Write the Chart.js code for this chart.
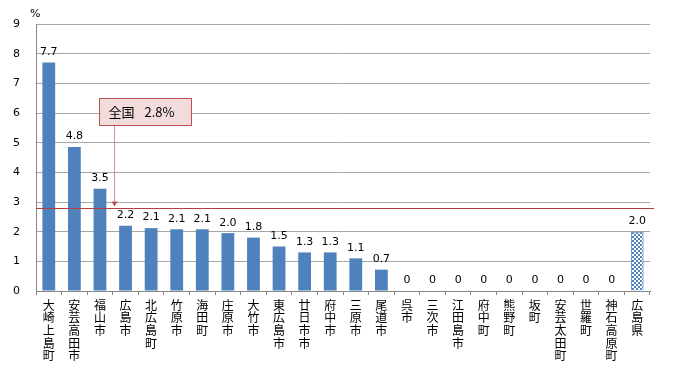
<!DOCTYPE html>
<html>
<head>
<meta charset="utf-8">
<script src="https://cdn.jsdelivr.net/npm/chart.js@4.4.0/dist/chart.umd.min.js"></script>
<style>
  body { margin: 0; background: #fff; }
  #wrap { width: 681px; height: 371px; }
</style>
</head>
<body>
<div id="wrap"><canvas id="chart" width="681" height="371"></canvas></div>
<script>
// municipalities (left to right)
const areas = ['大崎上島町', '安芸高田市', '福山市', '広島市', '北広島町', '竹原市', '海田町', '庄原市', '大竹市',
    '東広島市', '廿日市市', '府中市', '三原市', '尾道市', '呉市', '三次市', '江田島市', '府中町', '熊野町',
    '坂町', '安芸太田町', '世羅町', '神石高原町', '広島県'];
const rates = [7.7, 4.85, 3.45, 2.2, 2.12, 2.08, 2.08, 1.95, 1.8, 1.5, 1.3, 1.3, 1.1, 0.72, 0, 0, 0, 0, 0, 0, 0, 0, 0, 2.0];
const rateLabels = ['7.7', '4.8', '3.5', '2.2', '2.1', '2.1', '2.1', '2.0', '1.8', '1.5', '1.3', '1.3', '1.1', '0.7',
    '0', '0', '0', '0', '0', '0', '0', '0', '0', '2.0'];
const national = 2.8;
const yTicks = [0, 1, 2, 3, 4, 5, 6, 7, 8, 9];

const BLUE = '#4f81bd';

// checkered fill for the prefecture bar
const makePattern = () => {
    const c = document.createElement('canvas');
    c.width = 4; c.height = 4;
    const g = c.getContext('2d');
    g.fillStyle = '#fff';
    g.fillRect(0, 0, 4, 4);
    g.fillStyle = BLUE;
    g.fillRect(0, 0, 2, 2);
    g.fillRect(2, 2, 2, 2);
    return g.createPattern(c, 'repeat');
};
const pattern = makePattern();

const labelsPlugin = {
    id: 'extras',
    afterDatasetsDraw(chart) {
        const { ctx, chartArea } = chart;
        const meta = chart.getDatasetMeta(0);
        const y = chart.scales.y;

        // value labels
        ctx.save();
        ctx.font = '11px "DejaVu Sans", sans-serif';
        ctx.fillStyle = '#000';
        ctx.textAlign = 'center';
        ctx.textBaseline = 'bottom';
        meta.data.forEach((bar, i) => {
            ctx.fillText(rateLabels[i], bar.x, bar.y - 5);
        });

        // national average line
        const ny = Math.round(y.getPixelForValue(national)) + 0.5;
        ctx.strokeStyle = '#b2403d';
        ctx.lineWidth = 1;
        ctx.beginPath();
        ctx.moveTo(chartArea.left, ny);
        ctx.lineTo(chartArea.right + 4, ny);
        ctx.stroke();

        // callout box + arrow
        const bx = 99.5, by = 98.5, bw = 92, bh = 27;
        const ax = 114.5;
        ctx.strokeStyle = '#d99694';
        ctx.beginPath();
        ctx.moveTo(ax, by + bh);
        ctx.lineTo(ax, ny - 6);
        ctx.stroke();
        ctx.fillStyle = '#c0504d';
        ctx.beginPath();
        ctx.moveTo(ax - 3, ny - 7);
        ctx.lineTo(ax + 3, ny - 7);
        ctx.lineTo(ax, ny - 2);
        ctx.closePath();
        ctx.fill();

        ctx.fillStyle = '#f2dcdb';
        ctx.fillRect(bx, by, bw, bh);
        ctx.strokeStyle = '#c0504d';
        ctx.strokeRect(bx, by, bw, bh);
        ctx.fillStyle = '#000';
        ctx.font = '13px "Noto Sans CJK JP", sans-serif';
        ctx.textAlign = 'left';
        ctx.textBaseline = 'middle';
        ctx.fillText('全国', bx + 9, by + bh / 2);
        ctx.fillText('2.8%', bx + 45, by + bh / 2);

        // unit
        ctx.font = '11px "DejaVu Sans", sans-serif';
        ctx.fillText('%', 30, 14);
        ctx.restore();
    }
};

new Chart(document.getElementById('chart'), {
    type: 'bar',
    data: {
        labels: areas.map((a) => a.split('')),
        datasets: [{
            data: rates,
            backgroundColor: rates.map((v, i) => (i === rates.length - 1 ? pattern : BLUE)),
            borderColor: rates.map((v, i) => (i === rates.length - 1 ? BLUE : 'transparent')),
            borderWidth: rates.map((v, i) => (i === rates.length - 1 ? 1 : 0)),
            categoryPercentage: 1,
            barPercentage: 0.5,
        }],
    },
    options: {
        responsive: false,
        animation: false,
        layout: { padding: { top: 24, right: 31, left: 0, bottom: 0 } },
        plugins: { legend: { display: false }, tooltip: { enabled: false } },
        scales: {
            x: {
                grid: { drawOnChartArea: false, offset: true, tickLength: 4, color: '#888' },
                border: { color: '#888' },
                ticks: {
                    maxRotation: 0,
                    autoSkip: false,
                    padding: 4,
                    color: '#000',
                    font: { size: 12, family: '"Noto Sans CJK JP", sans-serif', lineHeight: 1.05 },
                },
                afterFit: (s) => { s.height = 80; },
            },
            y: {
                min: 0,
                max: 9,
                afterBuildTicks: (s) => { s.ticks = yTicks.map((v) => ({ value: v })); },
                grid: { color: '#a6a6a6', drawTicks: false },
                border: { color: '#888' },
                ticks: { padding: 16, color: '#000', font: { size: 11, family: '"DejaVu Sans", sans-serif' } },
                afterFit: (s) => { s.width = 36; },
            },
        },
    },
    plugins: [labelsPlugin],
});
</script>
</body>
</html>
